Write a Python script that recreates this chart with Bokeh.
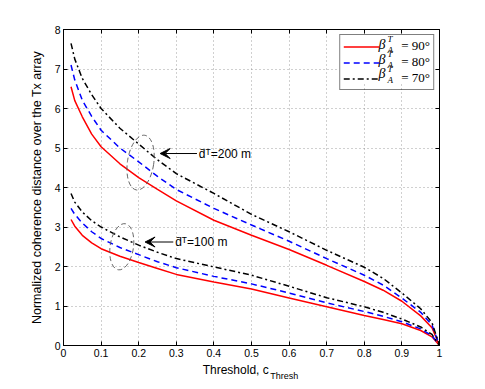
from bokeh.plotting import figure
from bokeh.models import (Legend, LegendItem, Label, Arrow, VeeHead, FixedTicker,
                          LinearAxis, Range1d, CustomJSTickFormatter, BoxAnnotation)
from bokeh.core.properties import value
from bokeh.embed import file_html
from bokeh.resources import INLINE

# ---- data ----
c_thresh = [0.02, 0.03, 0.05, 0.075, 0.1, 0.15, 0.2, 0.25, 0.3, 0.4, 0.5, 0.6,
            0.7, 0.8, 0.85, 0.9, 0.95, 0.98, 1.0]
d200_b90 = [6.55, 6.2, 5.79, 5.35, 5.03, 4.6, 4.25, 3.95, 3.66, 3.17, 2.79, 2.43,
            2.03, 1.62, 1.40, 1.12, 0.75, 0.45, 0.0]
d200_b80 = [7.1, 6.72, 6.21, 5.8, 5.45, 5.0, 4.65, 4.28, 3.95, 3.47, 3.05, 2.64,
            2.2, 1.78, 1.53, 1.2, 0.84, 0.52, 0.0]
d200_b70 = [7.65, 7.25, 6.76, 6.35, 6.0, 5.5, 5.1, 4.7, 4.35, 3.85, 3.32, 2.88,
            2.41, 1.98, 1.7, 1.33, 0.93, 0.58, 0.0]
d100_b90 = [3.19, 3.02, 2.79, 2.6, 2.45, 2.26, 2.1, 1.95, 1.8, 1.61, 1.43, 1.2,
            0.98, 0.76, 0.66, 0.55, 0.38, 0.22, 0.0]
d100_b80 = [3.47, 3.32, 3.1, 2.88, 2.71, 2.48, 2.3, 2.12, 1.97, 1.75, 1.56, 1.33,
            1.08, 0.86, 0.74, 0.6, 0.42, 0.25, 0.0]
d100_b70 = [3.85, 3.63, 3.38, 3.16, 3.0, 2.75, 2.54, 2.36, 2.2, 1.99, 1.78, 1.5,
            1.21, 0.98, 0.84, 0.67, 0.47, 0.28, 0.0]

angles = ["90°", "80°", "70°"]
x_ticks = [0, 0.1, 0.2, 0.3, 0.4, 0.5, 0.6, 0.7, 0.8, 0.9, 1]
y_ticks = [0, 1, 2, 3, 4, 5, 6, 7, 8]

# annotations
ell_x = [0.205, 0.155]
ell_y = [4.63, 2.5]
ell_w = [0.07, 0.062]
ell_h = [1.4, 1.18]
ann_text = ["d\u0304\u1d40=200 m", "d\u0304\u1d40=100 m"]
ann_tail_x = [0.355, 0.292]
ann_head_x = [0.257, 0.217]
ann_y = [4.86, 2.62]
ann_text_x = [0.36, 0.297]

# legend symbol texts
leg_rows = [7.63, 7.25, 6.88]
leg_beta_x = [0.838] * 3
leg_sup_x = [0.862] * 3

SANS = "Liberation Sans"
SERIF = "Liberation Serif"

p = figure(width=477, height=385, output_backend="svg",
           toolbar_location=None, x_range=Range1d(0, 1), y_range=Range1d(0, 8),
           min_border_left=63, min_border_right=38, min_border_top=29,
           min_border_bottom=40)
p.outline_line_color = "black"
p.background_fill_color = "white"

tick_x = FixedTicker(ticks=x_ticks)
tick_y = FixedTicker(ticks=y_ticks)
p.xaxis.ticker = tick_x
p.yaxis.ticker = tick_y
for ax in (p.xaxis[0], p.yaxis[0]):
    ax.major_tick_in = 4
    ax.major_tick_out = 0
    ax.minor_tick_line_color = None
    ax.axis_line_color = "black"
    ax.major_tick_line_color = "black"
    ax.major_label_text_font = SANS
    ax.major_label_text_font_size = "10.5px"
    ax.major_label_text_color = "black"
    ax.major_label_standoff = 3
p.yaxis.axis_label = "Normalized coherence distance over the Tx array"
p.yaxis.axis_label_text_font = SANS
p.yaxis.axis_label_text_font_size = "12.5px"
p.yaxis.axis_label_text_font_style = "normal"
p.yaxis.axis_label_text_color = "black"
p.yaxis.axis_label_standoff = 8

top_ax = LinearAxis(ticker=tick_x, formatter=CustomJSTickFormatter(code="return ''"))
right_ax = LinearAxis(ticker=tick_y, formatter=CustomJSTickFormatter(code="return ''"))
for ax in (top_ax, right_ax):
    ax.major_tick_in = 4
    ax.major_tick_out = 0
    ax.minor_tick_line_color = None
    ax.axis_line_color = "black"
    ax.major_label_standoff = 0
p.add_layout(top_ax, "above")
p.add_layout(right_ax, "right")

# x-axis title "Threshold, c_Thresh" built from two label-only axes
xlab_ax = LinearAxis(ticker=FixedTicker(ticks=[0.458]),
                     formatter=CustomJSTickFormatter(code="return 'Threshold, c'"))
xsub_ax = LinearAxis(ticker=FixedTicker(ticks=[0.587]),
                     formatter=CustomJSTickFormatter(code="return 'Thresh'"))
for ax, fs, so in ((xlab_ax, "12px", 3), (xsub_ax, "9px", -9)):
    ax.axis_line_color = None
    ax.major_tick_line_color = None
    ax.minor_tick_line_color = None
    ax.major_tick_in = 0
    ax.major_tick_out = 0
    ax.minor_tick_in = 0
    ax.minor_tick_out = 0
    ax.major_label_text_font = SANS
    ax.major_label_text_font_size = fs
    ax.major_label_text_color = "black"
    ax.major_label_standoff = so
p.add_layout(xlab_ax, "below")
p.add_layout(xsub_ax, "below")

for g in (p.xgrid[0], p.ygrid[0]):
    g.grid_line_color = "#777777"
    g.grid_line_dash = "1 3"
    g.grid_line_alpha = 0.7

r90 = p.line(c_thresh, d200_b90, line_color="#ff0000", line_width=1.5)
r80 = p.line(c_thresh, d200_b80, line_color="#0000ff", line_width=1.5, line_dash="6 4")
r70 = p.line(c_thresh, d200_b70, line_color="black", line_width=1.5, line_dash="6 3 2 3")
p.line(c_thresh, d100_b90, line_color="#ff0000", line_width=1.5)
p.line(c_thresh, d100_b80, line_color="#0000ff", line_width=1.5, line_dash="6 4")
p.line(c_thresh, d100_b70, line_color="black", line_width=1.5, line_dash="6 3 2 3")

p.ellipse(x=ell_x, y=ell_y, width=ell_w, height=ell_h, angle=-0.15,
          fill_color=None, line_color="#555555", line_dash="5 3", line_width=0.9)

for i in range(2):
    p.add_layout(Arrow(end=VeeHead(size=10, fill_color="black", line_color="black"),
                       x_start=ann_tail_x[i], y_start=ann_y[i],
                       x_end=ann_head_x[i], y_end=ann_y[i],
                       line_color="black", line_width=1))
    p.add_layout(Label(x=ann_text_x[i], y=ann_y[i], text=ann_text[i],
                       text_font=SANS, text_font_size="12px", text_color="black",
                       text_baseline="middle", text_align="left"))

# white backing for the legend (under the glyphs, above the grid)
p.add_layout(BoxAnnotation(left=0.73, right=0.985, top=7.88, bottom=6.65,
                           fill_color="white", fill_alpha=1, line_color=None,
                           level="underlay"))
p.text(x=leg_beta_x, y=leg_rows, text=["β"] * 3, text_font=value(SERIF),
       text_font_style="italic", text_font_size="14px", text_color="black",
       text_baseline="middle")
p.text(x=leg_sup_x, y=[v + 0.12 for v in leg_rows], text=["T"] * 3,
       text_font=value(SERIF), text_font_style="italic", text_font_size="9px",
       text_color="black", text_baseline="middle")
p.text(x=leg_sup_x, y=[v - 0.16 for v in leg_rows], text=["A"] * 3,
       text_font=value(SERIF), text_font_style="italic", text_font_size="9px",
       text_color="black", text_baseline="middle")

legend = Legend(items=[LegendItem(label="= " + angles[0], renderers=[r90]),
                       LegendItem(label="= " + angles[1], renderers=[r80]),
                       LegendItem(label="= " + angles[2], renderers=[r70])],
                location="top_right", margin=5, padding=3, spacing=0,
                glyph_width=36, glyph_height=15, label_height=15,
                label_standoff=22, label_text_font=SERIF,
                label_text_font_size="13px", label_text_color="black",
                border_line_color="black",
                border_line_width=1, background_fill_alpha=0)
p.add_layout(legend, "center")

open("out.html", "w").write(file_html(p, INLINE))
